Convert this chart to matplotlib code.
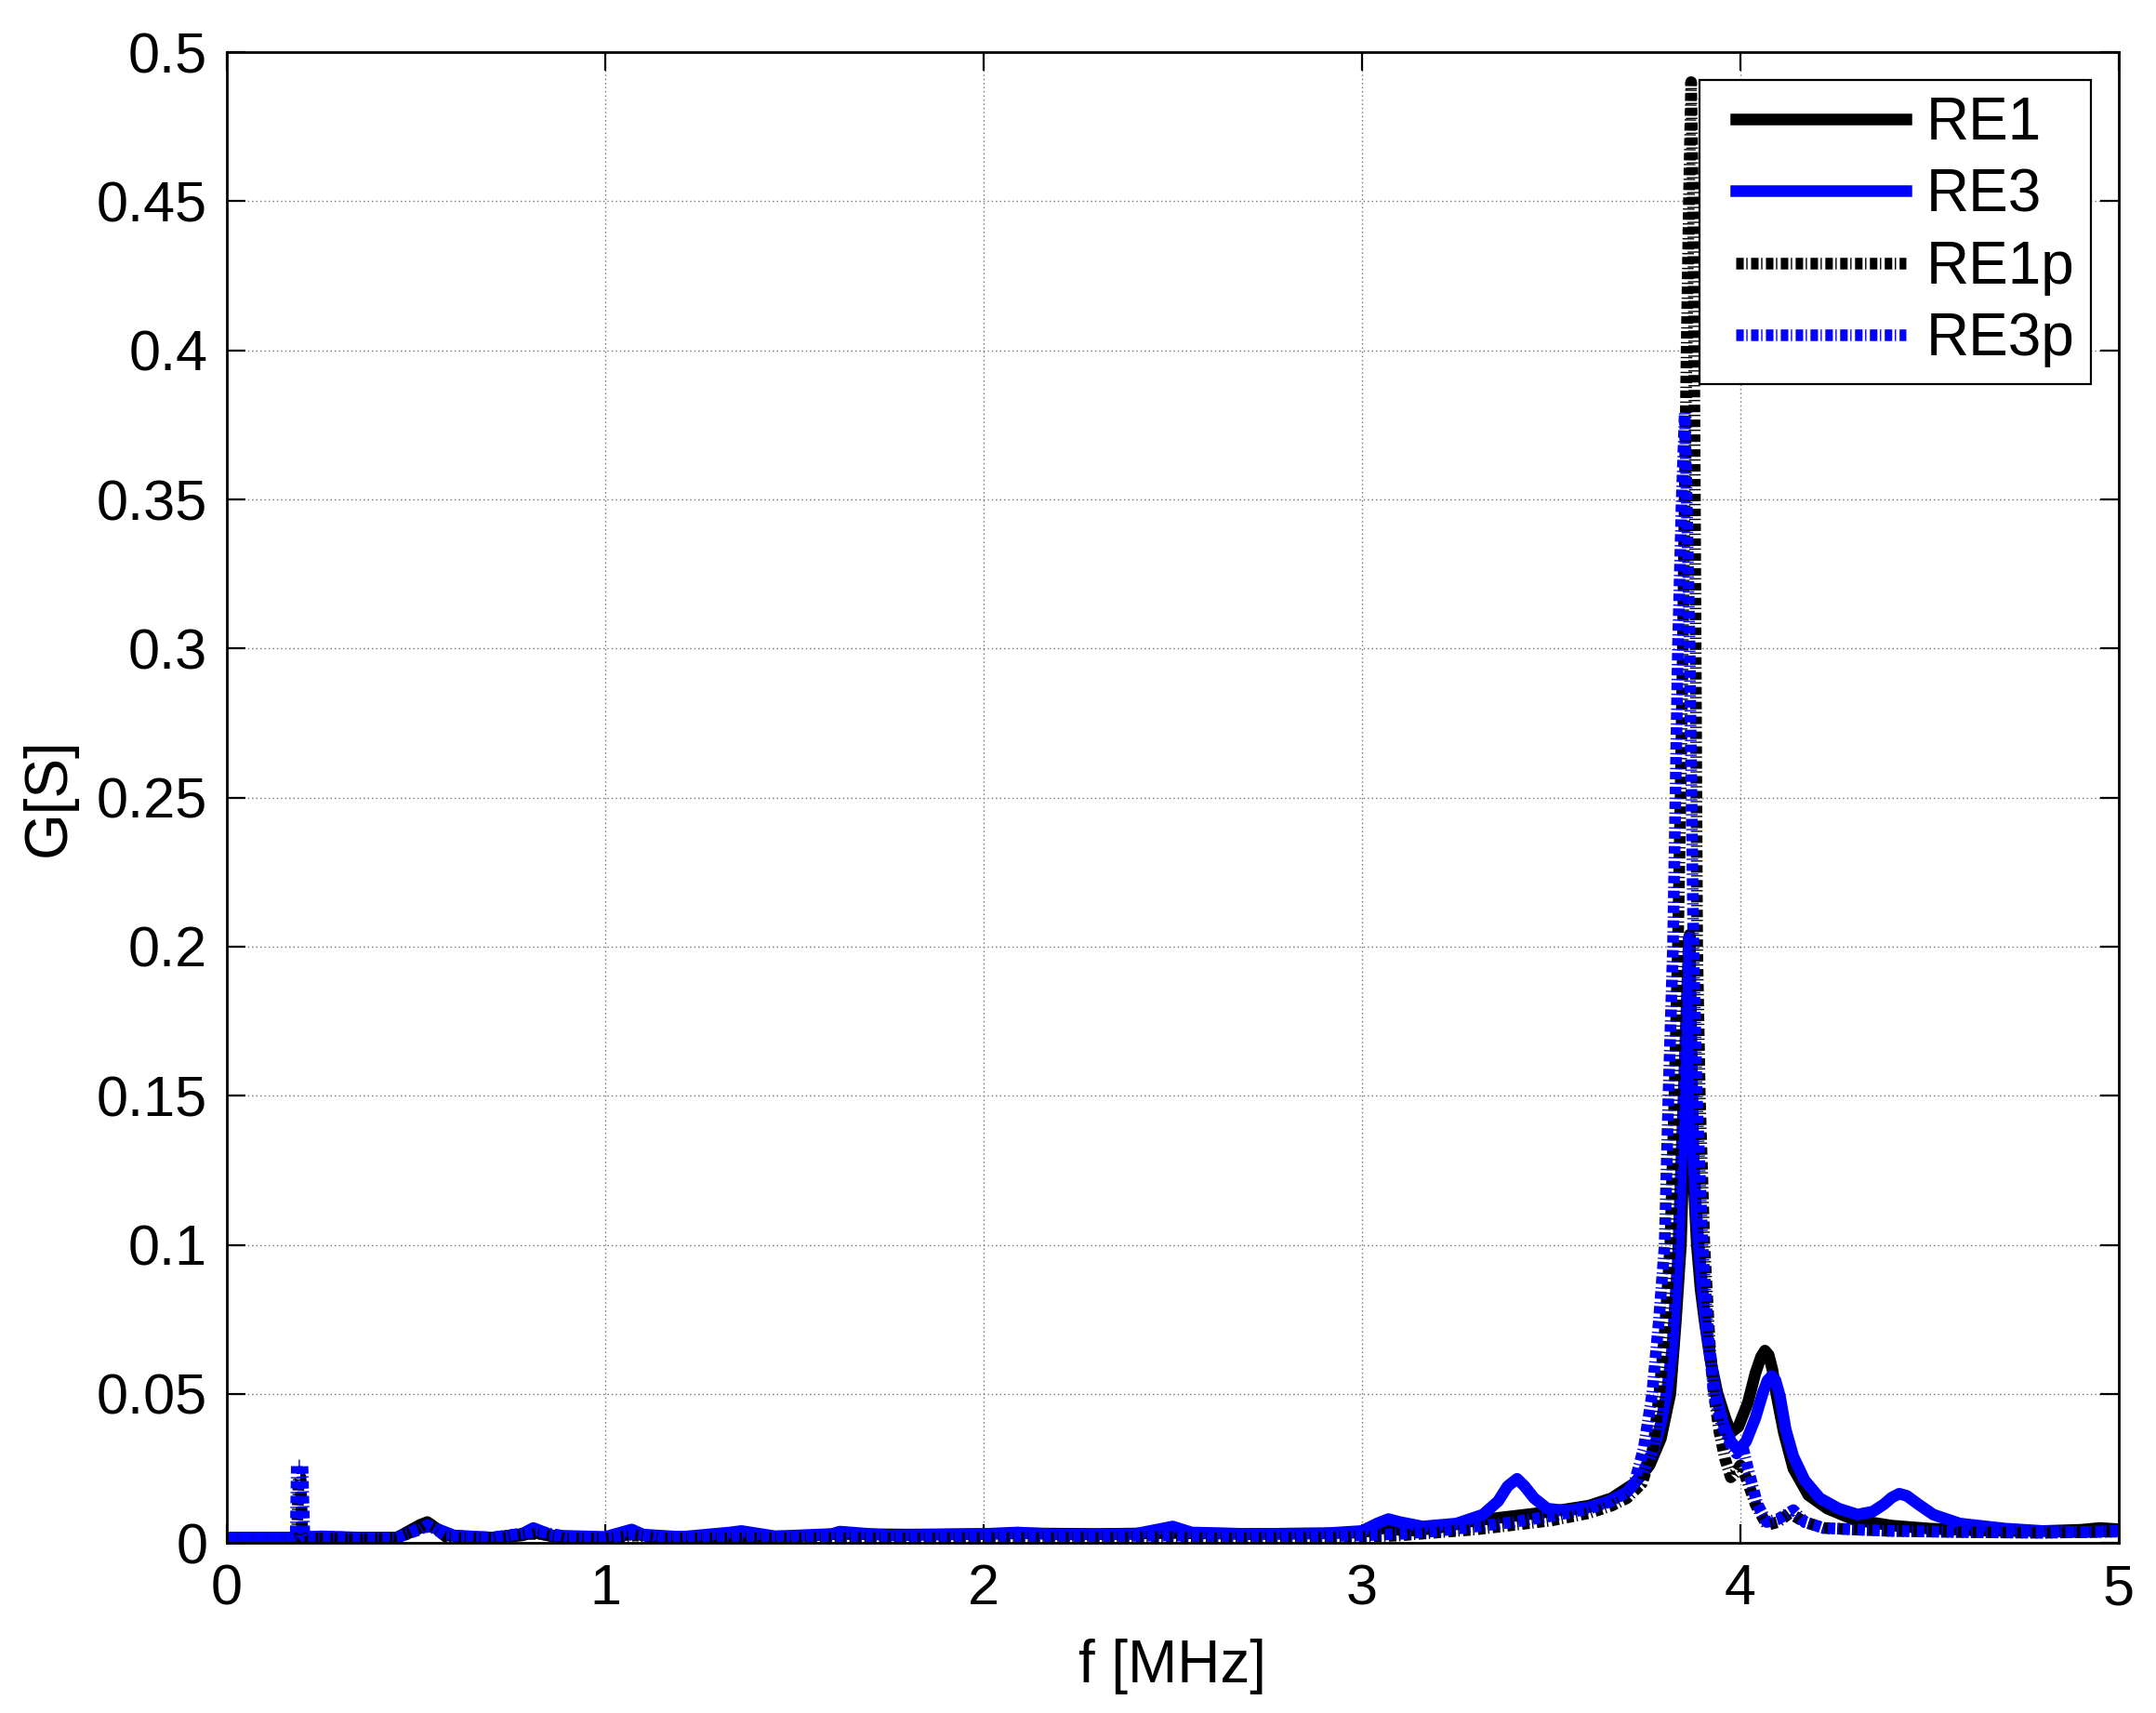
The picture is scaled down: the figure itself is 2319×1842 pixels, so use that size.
import matplotlib
matplotlib.use("Agg")
import matplotlib.pyplot as plt
from matplotlib.legend_handler import HandlerLine2D

# ---------------- data ----------------
RE1_f = [0.00, 0.10, 0.19, 0.25, 0.35, 0.45, 0.51, 0.53, 0.58, 0.70, 0.78, 0.81, 0.86, 1.00, 1.08,
         1.12, 1.30, 1.50, 1.62, 1.80, 2.00, 2.10, 2.30, 2.50, 2.70, 2.90, 3.00, 3.06, 3.12, 3.20,
         3.30, 3.40, 3.50, 3.60, 3.66, 3.72, 3.76, 3.79, 3.815, 3.83, 3.843, 3.855, 3.866, 3.873,
         3.877, 3.885, 3.895, 3.905, 3.92, 3.94, 3.96, 3.975, 3.995, 4.02, 4.04, 4.055, 4.065, 4.075,
         4.085, 4.095, 4.115, 4.14, 4.18, 4.23, 4.30, 4.40, 4.50, 4.60, 4.70, 4.80, 4.90, 4.95, 5.00]
RE1_G = [0.0015, 0.0015, 0.0016, 0.0020, 0.0016, 0.0018, 0.0060, 0.0070, 0.0025, 0.0016, 0.0025,
         0.0035, 0.0022, 0.0018, 0.0030, 0.0020, 0.0020, 0.0022, 0.0030, 0.0028, 0.0030, 0.0032,
         0.0030, 0.0033, 0.0030, 0.0032, 0.0035, 0.0050, 0.0040, 0.0050, 0.0075, 0.0090, 0.0105,
         0.0125, 0.0150, 0.0200, 0.0260, 0.0350, 0.0500, 0.0750, 0.1000, 0.1500, 0.2040, 0.1500,
         0.1200, 0.1000, 0.0850, 0.0750, 0.0620, 0.0500, 0.0420, 0.0370, 0.0390, 0.0470, 0.0570,
         0.0625, 0.0645, 0.0630, 0.0580, 0.0500, 0.0370, 0.0250, 0.0160, 0.0115, 0.0078, 0.0058,
         0.0048, 0.0043, 0.0040, 0.0040, 0.0044, 0.0050, 0.0046]

RE3_f = [0.00, 0.10, 0.19, 0.25, 0.35, 0.45, 0.51, 0.54, 0.60, 0.70, 0.78, 0.81, 0.86, 1.00, 1.07,
         1.10, 1.20, 1.33, 1.36, 1.45, 1.60, 1.62, 1.75, 2.00, 2.09, 2.20, 2.40, 2.46, 2.50, 2.55,
         2.70, 2.90, 3.00, 3.04, 3.07, 3.10, 3.16, 3.25, 3.32, 3.36, 3.385, 3.41, 3.43, 3.455, 3.49,
         3.54, 3.60, 3.65, 3.70, 3.74, 3.77, 3.79, 3.805, 3.82, 3.835, 3.85, 3.864, 3.871, 3.876,
         3.883, 3.89, 3.90, 3.91, 3.935, 3.955, 3.975, 3.995, 4.015, 4.04, 4.06, 4.072, 4.083, 4.093,
         4.105, 4.12, 4.14, 4.17, 4.21, 4.26, 4.31, 4.35, 4.38, 4.40, 4.42, 4.44, 4.47, 4.51, 4.58,
         4.70, 4.80, 4.90, 4.95, 5.00]
RE3_G = [0.0018, 0.0018, 0.0018, 0.0022, 0.0018, 0.0018, 0.0050, 0.0055, 0.0025, 0.0018, 0.0030,
         0.0050, 0.0025, 0.0020, 0.0045, 0.0028, 0.0020, 0.0035, 0.0040, 0.0022, 0.0030, 0.0038,
         0.0025, 0.0030, 0.0035, 0.0028, 0.0030, 0.0045, 0.0055, 0.0035, 0.0030, 0.0032, 0.0040,
         0.0065, 0.0080, 0.0070, 0.0055, 0.0065, 0.0095, 0.0140, 0.0190, 0.0215, 0.0190, 0.0150,
         0.0115, 0.0108, 0.0120, 0.0138, 0.0170, 0.0230, 0.0310, 0.0400, 0.0500, 0.0650, 0.0950,
         0.1500, 0.2030, 0.1600, 0.1300, 0.1120, 0.1000, 0.0850, 0.0720, 0.0500, 0.0400, 0.0340,
         0.0310, 0.0340, 0.0420, 0.0505, 0.0545, 0.0560, 0.0545, 0.0490, 0.0380, 0.0290, 0.0210,
         0.0150, 0.0115, 0.0095, 0.0105, 0.0130, 0.0152, 0.0165, 0.0158, 0.0130, 0.0095, 0.0065,
         0.0048, 0.0040, 0.0036, 0.0038, 0.0040]

RE1p_f = [0.00, 0.10, 0.185, 0.19, 0.195, 0.20, 0.25, 0.35, 0.45, 0.51, 0.53, 0.58, 0.70, 0.80, 0.83,
          0.90, 1.00, 1.08, 1.15, 1.35, 1.60, 1.80, 2.00, 2.30, 2.50, 2.60, 2.80, 3.00, 3.10, 3.20,
          3.30, 3.40, 3.50, 3.60, 3.66, 3.70, 3.74, 3.77, 3.786, 3.80, 3.815, 3.826, 3.835, 3.842,
          3.848, 3.853, 3.858, 3.864, 3.870, 3.875, 3.878, 3.880, 3.882, 3.884, 3.886, 3.893, 3.905,
          3.92, 3.93, 3.945, 3.96, 3.975, 3.99, 4.00, 4.015, 4.04, 4.07, 4.10, 4.13, 4.17, 4.22,
          4.30, 4.40, 4.60, 4.80, 4.90, 5.00]
RE1p_G = [0.0012, 0.0012, 0.0012, 0.0220, 0.0220, 0.0015, 0.0015, 0.0012, 0.0015, 0.0050, 0.0070,
          0.0020, 0.0015, 0.0030, 0.0030, 0.0015, 0.0015, 0.0025, 0.0015, 0.0015, 0.0018, 0.0015,
          0.0018, 0.0018, 0.0020, 0.0015, 0.0018, 0.0020, 0.0025, 0.0035, 0.0045, 0.0060, 0.0075,
          0.0100, 0.0125, 0.0150, 0.0200, 0.0320, 0.0500, 0.0700, 0.1000, 0.1500, 0.2000, 0.2500,
          0.3000, 0.3500, 0.4000, 0.4500, 0.4900, 0.4500, 0.4000, 0.3500, 0.3000, 0.2500, 0.2000,
          0.1500, 0.1000, 0.0650, 0.0500, 0.0370, 0.0280, 0.0220, 0.0240, 0.0260, 0.0220, 0.0130,
          0.0060, 0.0070, 0.0100, 0.0070, 0.0050, 0.0045, 0.0040, 0.0036, 0.0034, 0.0036, 0.0038]

RE3p_f = [0.00, 0.10, 0.182, 0.185, 0.20, 0.205, 0.25, 0.35, 0.45, 0.51, 0.53, 0.58, 0.70, 0.80,
          0.82, 0.90, 1.00, 1.08, 1.15, 1.35, 1.60, 1.80, 2.00, 2.30, 2.50, 2.60, 2.80, 3.00, 3.10,
          3.20, 3.30, 3.40, 3.50, 3.60, 3.66, 3.70, 3.72, 3.745, 3.767, 3.785, 3.80, 3.81, 3.822,
          3.835, 3.845, 3.853, 3.860, 3.866, 3.876, 3.885, 3.90, 3.915, 3.93, 3.95, 3.975, 3.99,
          4.005, 4.02, 4.045, 4.07, 4.10, 4.14, 4.17, 4.22, 4.30, 4.40, 4.60, 4.80, 4.90, 5.00]
RE3p_G = [0.0015, 0.0015, 0.0015, 0.0260, 0.0260, 0.0020, 0.0020, 0.0018, 0.0018, 0.0045, 0.0060,
          0.0025, 0.0018, 0.0035, 0.0040, 0.0020, 0.0018, 0.0030, 0.0018, 0.0022, 0.0022, 0.0018,
          0.0020, 0.0022, 0.0025, 0.0020, 0.0020, 0.0025, 0.0030, 0.0040, 0.0055, 0.0070, 0.0090,
          0.0115, 0.0140, 0.0170, 0.0200, 0.0320, 0.0500, 0.0750, 0.1000, 0.1500, 0.2000, 0.3000,
          0.3500, 0.3790, 0.3400, 0.3000, 0.2000, 0.1500, 0.1000, 0.0700, 0.0500, 0.0400, 0.0330,
          0.0300, 0.0330, 0.0250, 0.0130, 0.0070, 0.0080, 0.0110, 0.0070, 0.0050, 0.0045, 0.0040,
          0.0036, 0.0034, 0.0036, 0.0038]

labels = ["RE1", "RE3", "RE1p", "RE3p"]
x_ticks = [0, 1, 2, 3, 4, 5]
y_ticks = [0, 0.05, 0.1, 0.15, 0.2, 0.25, 0.3, 0.35, 0.4, 0.45, 0.5]
y_ticklabels = ["0", "0.05", "0.1", "0.15", "0.2", "0.25", "0.3", "0.35", "0.4", "0.45", "0.5"]

for a, b in [(RE1_f, RE1_G), (RE3_f, RE3_G), (RE1p_f, RE1p_G), (RE3p_f, RE3p_G)]:
    assert len(a) == len(b), (len(a), len(b))

# ---------------- style ----------------
plt.rcParams['font.family'] = ['Liberation Sans', 'DejaVu Sans']
plt.rcParams['lines.scale_dashes'] = False
FS = 44
FS_LAB = 46
FS_LEG = 46
LW = 9
dashdot = (0, (5.8, 2.0, 1.0, 2.7))

fig = plt.figure(figsize=(23.19, 18.42), dpi=100)
ax = fig.add_axes([0.1052, 0.0993, 0.8775, 0.8702])

series = [(RE1_f, RE1_G, 'black', '-'),
          (RE3_f, RE3_G, '#0000ff', '-'),
          (RE1p_f, RE1p_G, 'black', dashdot),
          (RE3p_f, RE3p_G, '#0000ff', dashdot)]
lines = []
for (fx, gy, c, ls), lab in zip(series, labels):
    ln, = ax.plot(fx, gy, color=c, linestyle=ls, linewidth=LW, label=lab,
                  solid_joinstyle='round', dash_capstyle='butt')
    lines.append(ln)

ax.set_xlim(0, 5)
ax.set_ylim(0, 0.5)
ax.set_xticks(x_ticks)
ax.set_xticklabels([str(t) for t in x_ticks])
ax.set_yticks(y_ticks)
ax.set_yticklabels(y_ticklabels)

ax.grid(True, color='0.45', linestyle=(0, (1.0, 2.2)), linewidth=1.0)
ax.set_axisbelow(True)

ax.tick_params(axis='both', which='major', direction='in', length=14.4, width=1.6,
               labelsize=FS, top=True, right=True, color='black')
ax.tick_params(axis='x', pad=16)
ax.tick_params(axis='y', pad=15)
for s in ax.spines.values():
    s.set_linewidth(2.0)
    s.set_color('black')

ax.set_xlabel('f [MHz]', fontsize=FS_LAB)
ax.set_ylabel('G[S]', fontsize=FS_LAB)
ax.xaxis.set_label_coords(0.5, -0.064)
ax.yaxis.set_label_coords(-0.079, 0.5)

hm = {ln: HandlerLine2D(xpad=0.33) for ln in lines}
leg = ax.legend(handles=lines, loc='upper right', fontsize=FS_LEG, handlelength=3.19,
                handletextpad=0.34, borderpad=0.28, labelspacing=0.27, borderaxespad=0.46,
                fancybox=False, framealpha=1.0, edgecolor='black', handler_map=hm)
leg.get_frame().set_linewidth(1.6)

fig.savefig('out.png', dpi=100)
